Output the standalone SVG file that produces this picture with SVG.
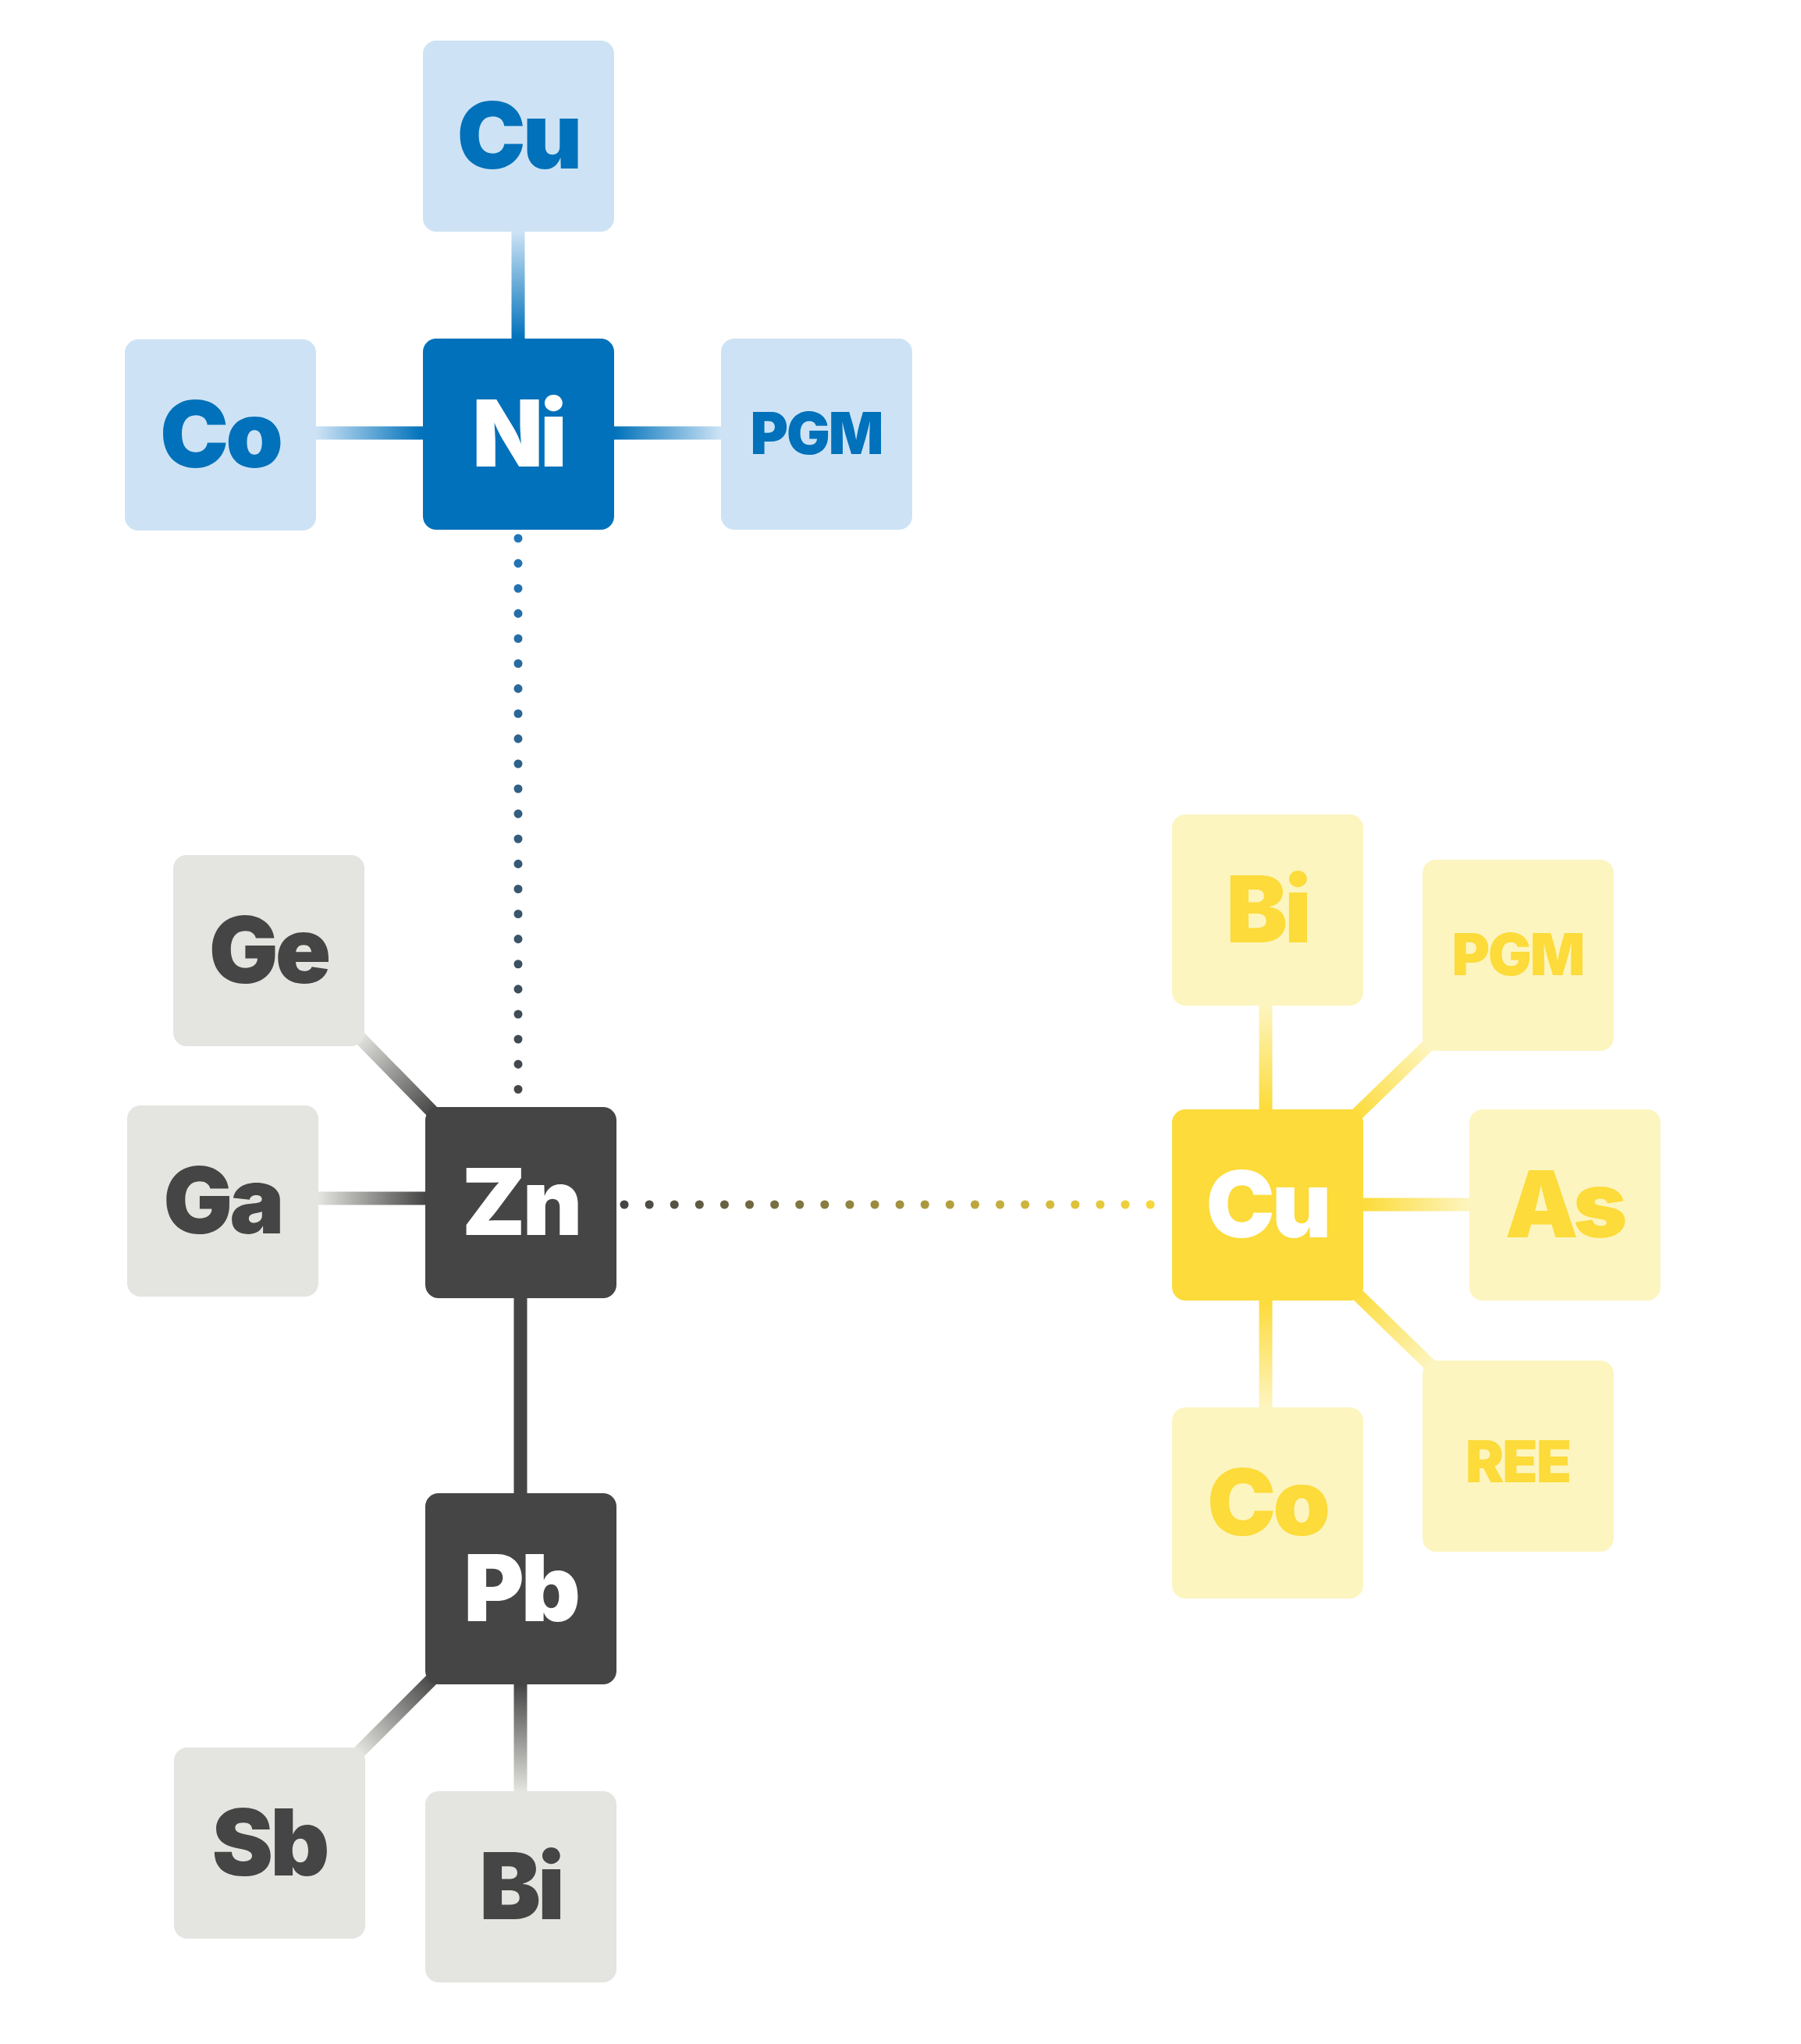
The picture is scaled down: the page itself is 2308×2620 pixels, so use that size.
<svg xmlns="http://www.w3.org/2000/svg" width="2308" height="2620" viewBox="0 0 2308 2620">
<style>
.t{font-family:Inter,"Open Sans","DejaVu Sans",sans-serif;font-weight:900;text-anchor:middle;letter-spacing:-4px}
.big{font-size:118px}.sm{font-size:74px;letter-spacing:-2px}
.bd{fill:#0071BA}.bl{fill:#CDE3F5}.gd{fill:#454545}.gl{fill:#E4E4E0}.yd{fill:#FCDB3A}.yl{fill:#FDF5C0}
.w{fill:#fff}.cb{fill:#0071BA}.cg{fill:#454545}.cy{fill:#FCDB3A}
.ln{stroke-width:17;fill:none}
</style>
<defs>
<linearGradient id="g1" gradientUnits="userSpaceOnUse" x1="0" y1="297" x2="0" y2="434"><stop offset="0" stop-color="#CDE3F5"/><stop offset="1" stop-color="#0071BA"/></linearGradient>
<linearGradient id="g2" gradientUnits="userSpaceOnUse" x1="405" y1="0" x2="542" y2="0"><stop offset="0" stop-color="#CDE3F5"/><stop offset="1" stop-color="#0071BA"/></linearGradient>
<linearGradient id="g3" gradientUnits="userSpaceOnUse" x1="787" y1="0" x2="924" y2="0"><stop offset="0" stop-color="#0071BA"/><stop offset="1" stop-color="#CDE3F5"/></linearGradient>
<linearGradient id="g4" gradientUnits="userSpaceOnUse" x1="460" y1="1329" x2="555" y2="1426"><stop offset="0" stop-color="#E4E4E0"/><stop offset="1" stop-color="#454545"/></linearGradient>
<linearGradient id="g5" gradientUnits="userSpaceOnUse" x1="408" y1="0" x2="545" y2="0"><stop offset="0" stop-color="#E4E4E0"/><stop offset="1" stop-color="#454545"/></linearGradient>
<linearGradient id="g6" gradientUnits="userSpaceOnUse" x1="555" y1="2151" x2="460" y2="2246"><stop offset="0" stop-color="#454545"/><stop offset="1" stop-color="#E4E4E0"/></linearGradient>
<linearGradient id="g7" gradientUnits="userSpaceOnUse" x1="0" y1="2159" x2="0" y2="2296"><stop offset="0" stop-color="#454545"/><stop offset="1" stop-color="#E4E4E0"/></linearGradient>
<linearGradient id="g8" gradientUnits="userSpaceOnUse" x1="0" y1="1289" x2="0" y2="1422"><stop offset="0" stop-color="#FDF5C0"/><stop offset="1" stop-color="#FCDB3A"/></linearGradient>
<linearGradient id="g9" gradientUnits="userSpaceOnUse" x1="1736" y1="1431" x2="1831" y2="1339"><stop offset="0" stop-color="#FCDB3A"/><stop offset="1" stop-color="#FDF5C0"/></linearGradient>
<linearGradient id="g10" gradientUnits="userSpaceOnUse" x1="1747" y1="0" x2="1883" y2="0"><stop offset="0" stop-color="#FCDB3A"/><stop offset="1" stop-color="#FDF5C0"/></linearGradient>
<linearGradient id="g11" gradientUnits="userSpaceOnUse" x1="0" y1="1667" x2="0" y2="1804"><stop offset="0" stop-color="#FCDB3A"/><stop offset="1" stop-color="#FDF5C0"/></linearGradient>
<linearGradient id="g12" gradientUnits="userSpaceOnUse" x1="1736" y1="1656" x2="1834" y2="1751"><stop offset="0" stop-color="#FCDB3A"/><stop offset="1" stop-color="#FDF5C0"/></linearGradient>
<linearGradient id="d1" gradientUnits="userSpaceOnUse" x1="0" y1="687" x2="0" y2="1414"><stop offset="0" stop-color="#1F76BA"/><stop offset="1" stop-color="#454545"/></linearGradient>
<linearGradient id="d2" gradientUnits="userSpaceOnUse" x1="797" y1="0" x2="1497" y2="0"><stop offset="0" stop-color="#454545"/><stop offset="1" stop-color="#FCDB3A"/></linearGradient>
</defs>
<g id="connectors">
<line class="ln" stroke="url(#g1)" x1="664" y1="297" x2="664" y2="434"/>
<line class="ln" stroke="url(#g2)" x1="405" y1="555" x2="542" y2="555"/>
<line class="ln" stroke="url(#g3)" x1="787" y1="555" x2="924" y2="555"/>
<line class="ln" stroke="url(#g4)" x1="460" y1="1329" x2="555" y2="1426"/>
<line class="ln" stroke="url(#g5)" x1="408" y1="1536" x2="545" y2="1536"/>
<line class="ln" stroke="#454545" x1="667" y1="1664" x2="667" y2="1914"/>
<line class="ln" stroke="url(#g6)" x1="555" y1="2151" x2="460" y2="2246"/>
<line class="ln" stroke="url(#g7)" x1="667" y1="2159" x2="667" y2="2296"/>
<line class="ln" stroke="url(#g8)" x1="1622" y1="1289" x2="1622" y2="1422"/>
<line class="ln" stroke="url(#g9)" x1="1736" y1="1431" x2="1831" y2="1339"/>
<line class="ln" stroke="url(#g10)" x1="1747" y1="1544" x2="1883" y2="1544"/>
<line class="ln" stroke="url(#g11)" x1="1622" y1="1667" x2="1622" y2="1804"/>
<line class="ln" stroke="url(#g12)" x1="1736" y1="1656" x2="1834" y2="1751"/>
<line stroke="url(#d1)" stroke-width="11" stroke-linecap="round" stroke-dasharray="0.1 32" x1="664" y1="690" x2="664" y2="1414"/>
<line stroke="url(#d2)" stroke-width="11" stroke-linecap="round" stroke-dasharray="0.1 32" x1="800" y1="1544" x2="1497" y2="1544"/>
</g>
<g id="ni-cu"><rect class="bl" x="542" y="52" width="245" height="245" rx="17"/><text class="t big cb" x="664" y="216">Cu</text></g>
<g id="ni"><rect class="bd" x="542" y="434" width="245" height="245" rx="17"/><text class="t big w" x="664" y="598">Ni</text></g>
<g id="ni-co"><rect class="bl" x="160" y="435" width="245" height="245" rx="17"/><text class="t big cb" x="282" y="599">Co</text></g>
<g id="ni-pgm"><rect class="bl" x="924" y="434" width="245" height="245" rx="17"/><text class="t sm cb" x="1046" y="582">PGM</text></g>
<g id="ge"><rect class="gl" x="222" y="1096" width="245" height="245" rx="17"/><text class="t big cg" x="344" y="1260">Ge</text></g>
<g id="ga"><rect class="gl" x="163" y="1417" width="245" height="245" rx="17"/><text class="t big cg" x="285" y="1581">Ga</text></g>
<g id="zn"><rect class="gd" x="545" y="1419" width="245" height="245" rx="17"/><text class="t big w" x="667" y="1583">Zn</text></g>
<g id="pb"><rect class="gd" x="545" y="1914" width="245" height="245" rx="17"/><text class="t big w" x="667" y="2078">Pb</text></g>
<g id="sb"><rect class="gl" x="223" y="2240" width="245" height="245" rx="17"/><text class="t big cg" x="345" y="2404">Sb</text></g>
<g id="pb-bi"><rect class="gl" x="545" y="2296" width="245" height="245" rx="17"/><text class="t big cg" x="667" y="2460">Bi</text></g>
<g id="cu-bi"><rect class="yl" x="1502" y="1044" width="245" height="245" rx="17"/><text class="t big cy" x="1624" y="1208">Bi</text></g>
<g id="cu-pgm"><rect class="yl" x="1823" y="1102" width="245" height="245" rx="17"/><text class="t sm cy" x="1945" y="1250">PGM</text></g>
<g id="cu"><rect class="yd" x="1502" y="1422" width="245" height="245" rx="17"/><text class="t big w" x="1624" y="1586">Cu</text></g>
<g id="as"><rect class="yl" x="1883" y="1422" width="245" height="245" rx="17"/><text class="t big cy" x="2005" y="1586">As</text></g>
<g id="cu-co"><rect class="yl" x="1502" y="1804" width="245" height="245" rx="17"/><text class="t big cy" x="1624" y="1968">Co</text></g>
<g id="ree"><rect class="yl" x="1823" y="1744" width="245" height="245" rx="17"/><text class="t sm cy" x="1945" y="1900">REE</text></g>
</svg>
